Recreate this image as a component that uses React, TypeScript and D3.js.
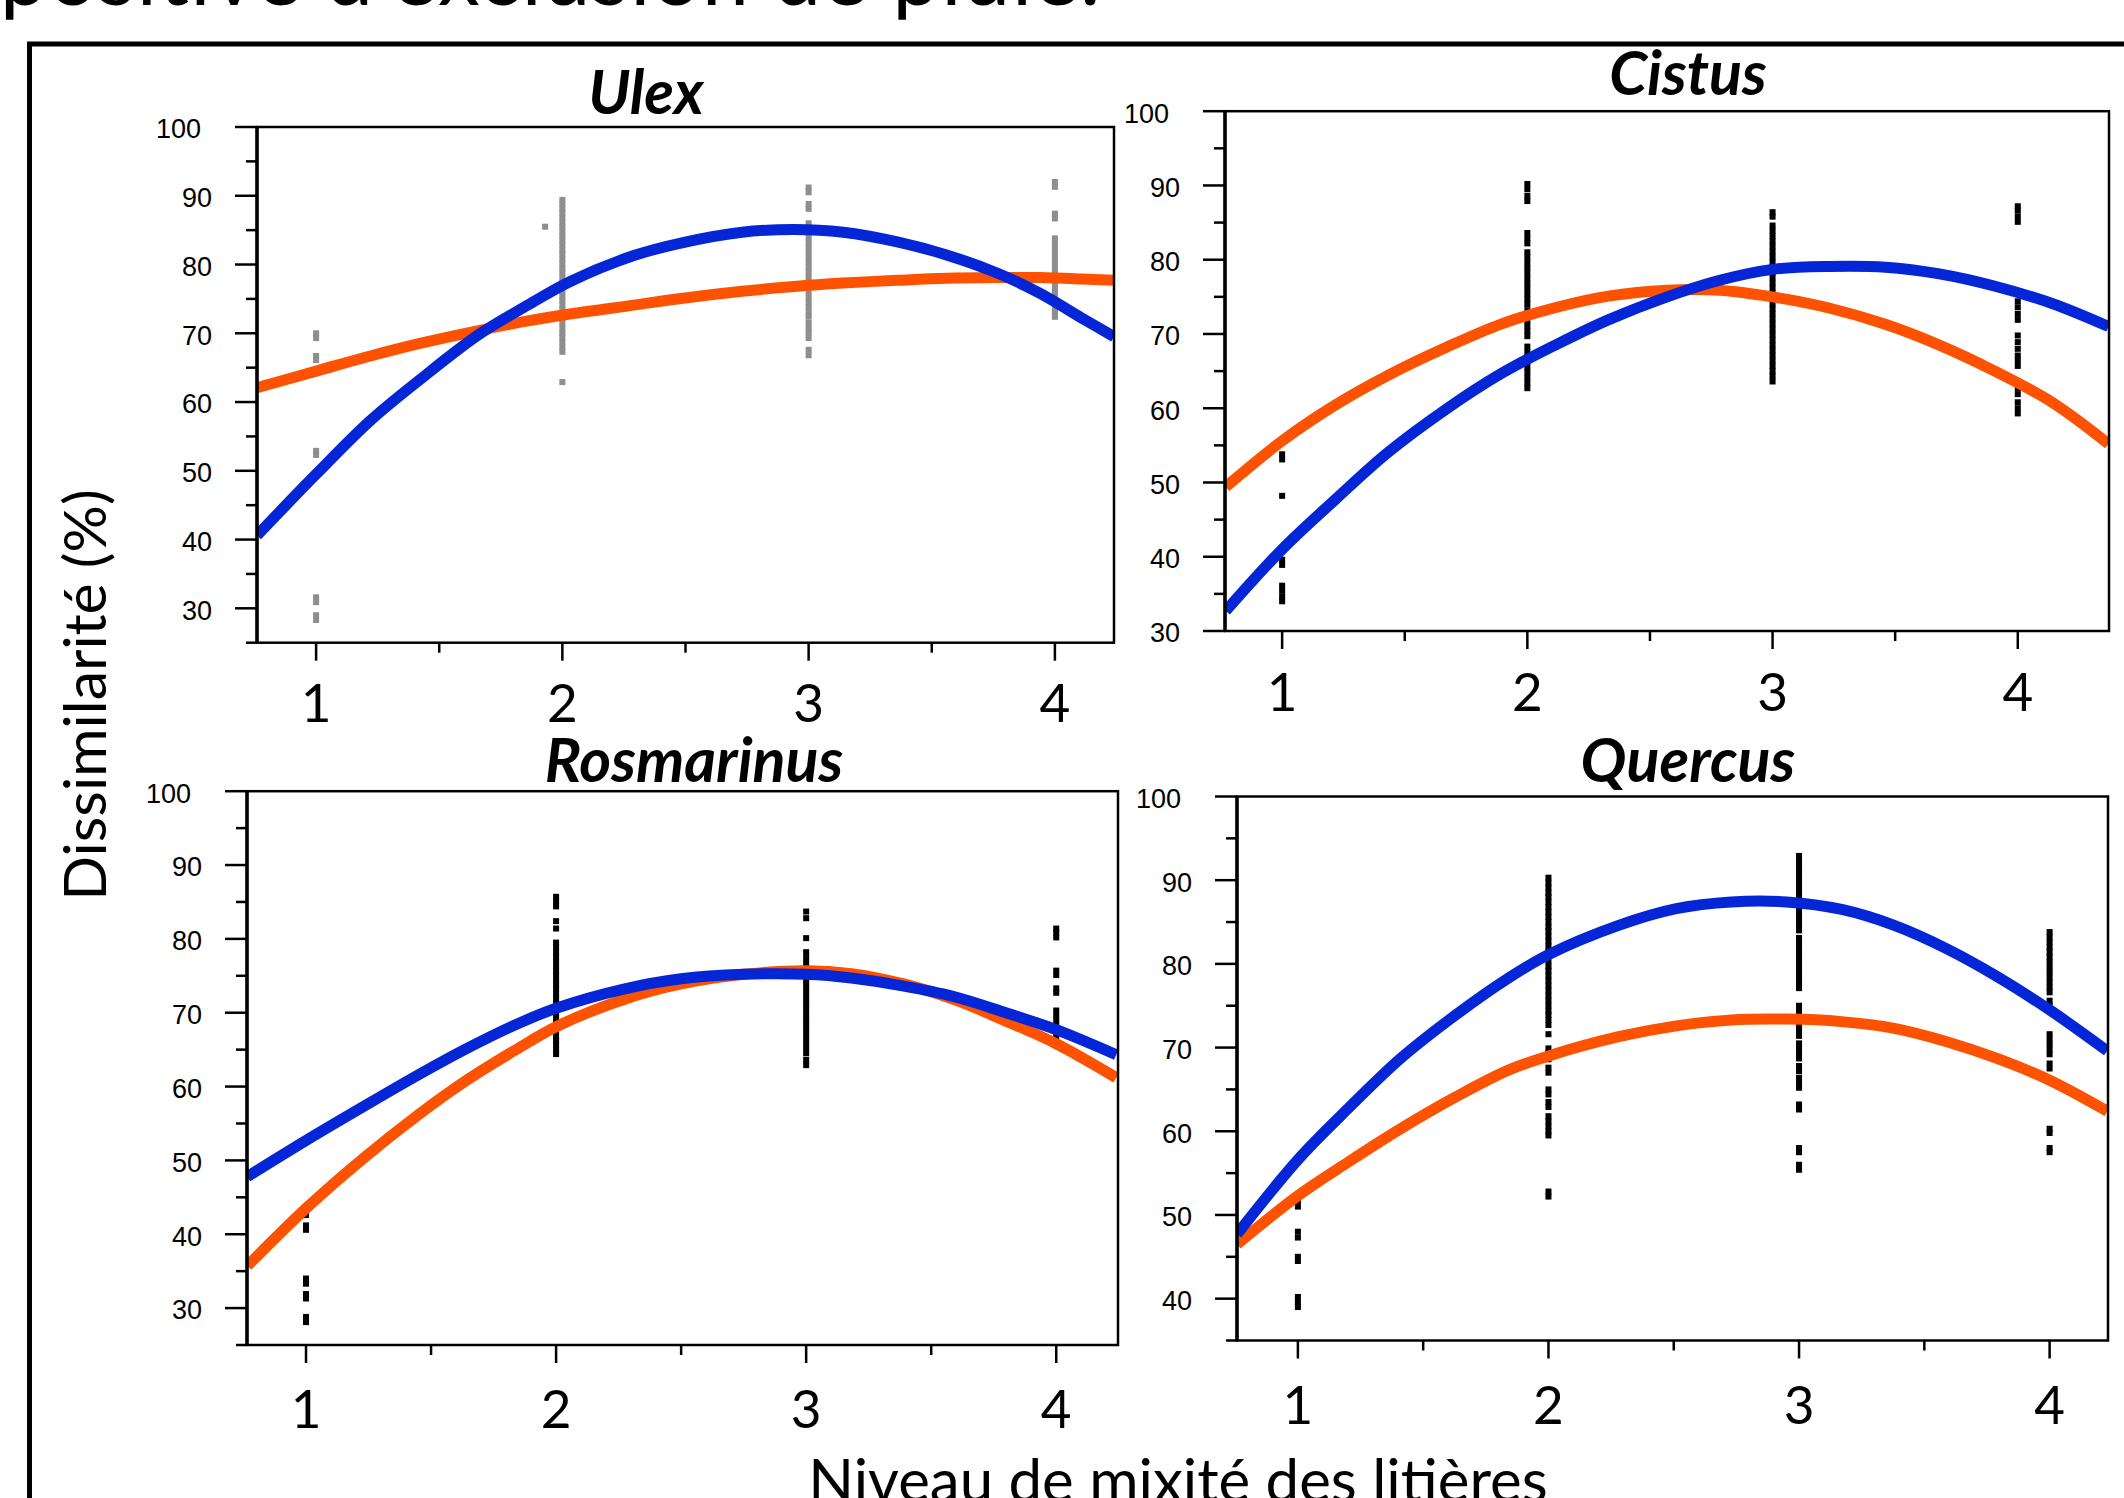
import React from "react";
import * as d3 from "d3";

const W = 2124;
const H = 1498;

const TITLES = ["Ulex", "Cistus", "Rosmarinus", "Quercus"];
const LEVELS = [1, 2, 3, 4];
const X_MINOR = [1.5, 2.5, 3.5];
const Y_LABEL = "Dissimilarité (%)";
const X_LABEL = "Niveau de mixité des litières";
const HEADER = "positive d'exclusion de pluie.";

// fitted curves (x positions + value for each fit)
const ULEX_X = [0.76, 1.0, 1.22, 1.43, 1.66, 1.86, 2.03, 2.29, 2.49, 2.73, 2.94, 3.14, 3.36, 3.56, 3.77, 3.94, 4.11, 4.24];
const ULEX_BLUE = [40.6, 49.5, 57.3, 63.5, 69.8, 74.1, 77.5, 81.3, 83.2, 84.7, 85.1, 84.7, 83.3, 81.4, 78.7, 75.8, 72.2, 69.5];
const ULEX_ORANGE = [62.1, 64.5, 66.7, 68.6, 70.4, 71.8, 72.8, 74.1, 75.1, 76.1, 76.8, 77.3, 77.7, 78.0, 78.1, 78.1, 77.9, 77.7];

const CISTUS_X = [0.77, 1.0, 1.22, 1.43, 1.67, 1.89, 2.12, 2.33, 2.57, 2.78, 3.0, 3.23, 3.46, 3.68, 3.9, 4.14, 4.37];
const CISTUS_BLUE = [32.7, 41.0, 47.8, 54.0, 59.9, 64.6, 68.6, 71.9, 75.0, 77.2, 78.7, 79.1, 79.0, 78.1, 76.5, 74.1, 71.0];
const CISTUS_ORANGE = [49.4, 55.6, 60.5, 64.4, 68.2, 71.3, 73.6, 75.1, 75.9, 75.9, 75.0, 73.5, 71.3, 68.5, 65.1, 60.8, 55.2];

const ROSM_X = [0.765, 1, 1.23, 1.45, 1.64, 1.84, 2, 2.27, 2.5, 2.75, 3, 3.18, 3.39, 3.59, 3.79, 4, 4.24];
const ROSM_BLUE = [47.8, 52.7, 57.3, 61.6, 65.1, 68.4, 70.6, 73.2, 74.6, 75.2, 75.2, 74.7, 73.6, 72.2, 70.1, 67.7, 64.3];
const ROSM_ORANGE = [35.7, 43.5, 50.3, 56.2, 60.8, 65.0, 68.1, 71.8, 73.9, 75.2, 75.7, 75.3, 73.9, 71.8, 69.0, 65.8, 61.2];

const QUER_X = [0.757, 1, 1.2, 1.41, 1.63, 1.84, 2, 2.28, 2.51, 2.73, 2.95, 3.17, 3.38, 3.59, 3.79, 4, 4.23];
const QUER_BLUE = [47.7, 56.6, 62.7, 68.7, 73.9, 78.3, 81.1, 84.6, 86.6, 87.4, 87.4, 86.5, 84.6, 81.8, 78.5, 74.5, 69.6];
const QUER_ORANGE = [46.5, 52.3, 56.3, 60.3, 64.1, 67.3, 69.0, 71.3, 72.6, 73.3, 73.4, 73.1, 72.3, 70.7, 68.7, 66.1, 62.4];

// observations: [niveau, dissimilarité]
const ULEX_PTS: [number, number][] = [
  [1, 70], [1, 69.3], [1, 66.7], [1, 66.1], [1, 52.9], [1, 52.3], [1, 31.6], [1, 30.9], [1, 29.0], [1, 28.3],
  [1.93, 85.5],
  ...[89.4, 88.8, 88.1, 87.5, 86.8, 86.1, 85.5, 84.8, 84.1, 83.5, 82.8, 82.1, 81.5, 80.8, 80.1, 79.4, 78.8, 78.1,
    77.4, 76.8, 76.1, 75.4, 74.8, 74.1, 73.4, 72.7, 72.1, 71.4, 70.7, 70.0, 69.4, 68.7, 68.0, 67.3, 62.9].map((v) => [2, v] as [number, number]),
  ...[91.2, 90.5, 88.8, 88.1, 86.0, 85.3, 84.6, 83.9, 83.2, 82.5, 81.8, 81.0, 80.3, 79.6, 78.9, 78.1, 77.4, 76.7,
    76.0, 75.2, 74.5, 73.8, 73.0, 72.4, 71.5, 70.8, 70.1, 69.3, 67.6, 66.8].map((v) => [3, v] as [number, number]),
  ...[92.0, 91.3, 87.4, 86.7, 83.8, 83.1, 82.4, 81.7, 81.0, 80.3, 79.5, 78.8, 78.1, 77.4, 76.7, 76.0, 75.3, 74.6,
    73.9, 73.1, 72.4].map((v) => [4, v] as [number, number]),
];

const CISTUS_PTS: [number, number][] = [
  ...[53.8, 53.1, 48.2, 39.6, 38.9, 36.1, 35.4, 34.6, 34.0].map((v) => [1, v] as [number, number]),
  ...[90.2, 89.5, 88.6, 87.9, 83.6, 82.9, 82.2, 81.0, 80.3, 79.6, 78.9, 78.2, 77.5, 76.8, 76.1, 75.4, 74.7, 74.0,
    73.2, 72.5, 71.8, 71.1, 70.4, 69.7, 68.3, 67.6, 66.9, 66.2, 65.5, 64.8, 64.1, 63.4, 62.7].map((v) => [2, v] as [number, number]),
  ...[86.4, 85.8, 84.6, 83.9, 83.2, 82.5, 81.8, 81.1, 80.4, 79.7, 79.0, 78.3, 77.6, 76.9, 76.2, 75.5, 74.8, 74.1,
    73.4, 72.7, 72.0, 71.3, 70.6, 69.9, 69.2, 68.5, 67.8, 67.1, 66.4, 65.7, 65.0, 64.3, 63.6].map((v) => [3, v] as [number, number]),
  ...[87.2, 86.6, 85.8, 85.1, 74.4, 73.6, 72.7, 71.9, 69.8, 68.9, 68.0, 67.1, 66.4, 65.7, 62.7, 61.9, 60.8, 60.0,
    59.3].map((v) => [4, v] as [number, number]),
];

const ROSM_PTS: [number, number][] = [
  ...[42.6, 41.2, 40.6, 34.0, 33.3, 31.9, 31.3, 28.8, 28.1].map((v) => [1, v] as [number, number]),
  ...[85.7, 85.1, 84.4, 82.4, 81.4, 79.5, 78.9, 78.2, 77.6, 77.0, 76.3, 75.7, 75.1, 74.4, 73.8, 73.2, 72.5, 71.9,
    71.3, 70.6, 70.0, 69.4, 68.7, 68.1, 67.5, 66.8, 66.2, 65.6, 64.9, 64.4].map((v) => [2, v] as [number, number]),
  ...[83.7, 82.8, 80.1, 78.2, 77.4, 76.6, 75.9, 75.1, 74.5, 73.8, 73.1, 72.5, 71.8, 71.1, 70.5, 69.8, 69.1, 68.5,
    67.8, 67.1, 66.5, 65.8, 65.1, 64.5, 63.6, 62.9].map((v) => [3, v] as [number, number]),
  ...[81.4, 80.8, 80.2, 75.7, 75.1, 73.3, 72.7, 70.3, 69.6, 68.9, 68.2, 67.5, 66.8].map((v) => [4, v] as [number, number]),
];

const QUER_PTS: [number, number][] = [
  ...[51.6, 51.0, 48.0, 47.3, 45.0, 44.5, 40.2, 39.6, 39.0].map((v) => [1, v] as [number, number]),
  ...[90.3, 89.7, 89.1, 88.5, 88.0, 87.4, 86.8, 86.2, 85.6, 85.0, 84.4, 83.9, 83.3, 82.7, 82.1, 81.5, 80.9, 80.3,
    79.7, 79.2, 78.6, 78.0, 77.4, 76.8, 76.2, 75.6, 75.0, 74.4, 73.9, 73.3, 72.7, 71.6, 69.9, 69.3, 68.6, 67.6,
    67.0, 65.0, 64.4, 63.5, 62.9, 61.8, 61.2, 60.6, 60.0, 59.5, 52.8, 52.2].map((v) => [2, v] as [number, number]),
  ...[92.9, 92.3, 91.7, 91.1, 90.5, 89.9, 89.3, 88.8, 88.2, 87.6, 87.0, 86.4, 85.8, 85.2, 84.6, 84.0, 83.1, 82.5,
    81.9, 81.3, 80.7, 80.1, 79.5, 78.9, 78.3, 77.7, 77.1, 75.0, 74.4, 73.8, 73.2, 72.6, 72.0, 71.4, 70.5, 69.9,
    69.3, 68.7, 67.8, 67.2, 66.4, 65.8, 65.2, 63.2, 62.6, 58.0, 57.5, 56.0, 55.4].map((v) => [3, v] as [number, number]),
  ...[83.8, 83.2, 82.6, 82.0, 81.4, 80.8, 80.2, 79.6, 79.0, 78.4, 77.8, 77.2, 76.6, 75.6, 75.0, 74.5, 71.6, 71.0,
    70.4, 69.8, 69.2, 68.1, 67.5, 60.3, 59.8, 58.0, 57.5].map((v) => [4, v] as [number, number]),
];

// y-axis range per panel
const Y_MIN = [25, 30, 25, 35];
const Y_TICKS = [
  [30, 40, 50, 60, 70, 80, 90, 100],
  [30, 40, 50, 60, 70, 80, 90, 100],
  [30, 40, 50, 60, 70, 80, 90, 100],
  [40, 50, 60, 70, 80, 90, 100],
];
const X_DOMAINS = [[0.76, 4.24], [0.767, 4.372], [0.764, 4.247], [0.757, 4.233]];

// layout (pixel boxes etc.)
const LAYOUT = [
  { left: 257, right: 1114, top: 127, bottom: 642.7, titleX: 646, titleY: 114, tickLabelY: 722, ptColor: "#8e8e8e" },
  { left: 1225, right: 2109, top: 111.2, bottom: 631, titleX: 1688, titleY: 95, tickLabelY: 711, ptColor: "#000" },
  { left: 247, right: 1118, top: 791.2, bottom: 1345, titleX: 694, titleY: 782, tickLabelY: 1428, ptColor: "#000" },
  { left: 1237, right: 2108, top: 796.5, bottom: 1340.5, titleX: 1688, titleY: 782, tickLabelY: 1424, ptColor: "#000" },
];

const SERIES = [
  { x: ULEX_X, blue: ULEX_BLUE, orange: ULEX_ORANGE, pts: ULEX_PTS },
  { x: CISTUS_X, blue: CISTUS_BLUE, orange: CISTUS_ORANGE, pts: CISTUS_PTS },
  { x: ROSM_X, blue: ROSM_BLUE, orange: ROSM_ORANGE, pts: ROSM_PTS },
  { x: QUER_X, blue: QUER_BLUE, orange: QUER_ORANGE, pts: QUER_PTS },
];

const BLUE = "#0426d6";
const ORANGE = "#ff5200";
const SANS = "Lato, Carlito, 'Open Sans', sans-serif";
const TICK_FONT = "'Liberation Sans', Arial, sans-serif";

function Panel({ i }: { i: number }) {
  const L = LAYOUT[i];
  const S = SERIES[i];
  const x = d3.scaleLinear().domain(X_DOMAINS[i]).range([L.left, L.right]);
  const y = d3.scaleLinear().domain([Y_MIN[i], 100]).range([L.bottom, L.top]);
  const minor = d3.range(Y_MIN[i], 100.01, 5);

  const line = (vals: number[]) =>
    d3
      .line<number>()
      .x((_, k) => x(S.x[k]))
      .y((d) => y(d))
      .curve(d3.curveCatmullRom)(vals) || "";

  const clipId = `clip-${i}`;
  const boxW = L.right - L.left;
  const boxH = L.bottom - L.top;

  return (
    <g>
      <defs>
        <clipPath id={clipId}>
          <rect x={L.left} y={L.top} width={boxW} height={boxH} />
        </clipPath>
      </defs>

      {/* title */}
      <text
        x={L.titleX}
        y={L.titleY}
        textAnchor="middle"
        fontFamily={SANS}
        fontWeight={700}
        fontStyle="italic"
        fontSize={61}
      >
        {TITLES[i]}
      </text>

      {/* points */}
      <g fill={L.ptColor}>
        {S.pts.map(([lv, v], k) => (
          <rect key={k} x={x(lv) - 3} y={y(v) - 3} width={6} height={6} />
        ))}
      </g>

      {/* fitted curves */}
      <g clipPath={`url(#${clipId})`} fill="none" strokeWidth={11} strokeLinejoin="round">
        <path d={line(S.orange)} stroke={ORANGE} />
        <path d={line(S.blue)} stroke={BLUE} />
      </g>

      {/* frame */}
      <rect x={L.left} y={L.top} width={boxW} height={boxH} fill="none" stroke="#000" strokeWidth={2.5} />
      <line x1={L.left} x2={L.left} y1={L.top} y2={L.bottom} stroke="#000" strokeWidth={3.5} />

      {/* y axis */}
      {minor.map((t) => {
        const major = t % 10 === 0;
        return (
          <line
            key={t}
            x1={L.left - (major ? 22 : 11)}
            x2={L.left}
            y1={y(t)}
            y2={y(t)}
            stroke="#000"
            strokeWidth={2.5}
          />
        );
      })}
      {Y_TICKS[i].map((t) => (
        <text
          key={t}
          x={L.left - 45 - (t === 100 ? 11 : 0)}
          y={y(t)}
          dy="0.42em"
          textAnchor="end"
          fontFamily={TICK_FONT}
          fontSize={27}
        >
          {t}
        </text>
      ))}

      {/* x axis */}
      {LEVELS.map((t) => (
        <line key={t} x1={x(t)} x2={x(t)} y1={L.bottom} y2={L.bottom + 18} stroke="#000" strokeWidth={2.5} />
      ))}
      {X_MINOR.map((t) => (
        <line key={t} x1={x(t)} x2={x(t)} y1={L.bottom} y2={L.bottom + 10} stroke="#000" strokeWidth={2.5} />
      ))}
      {LEVELS.map((t) => (
        <text key={t} x={x(t)} y={L.tickLabelY} textAnchor="middle" fontFamily={SANS} fontSize={53}>
          {String(t)}
        </text>
      ))}
    </g>
  );
}

export default function App() {
  return (
    <svg
      width={W}
      height={H}
      viewBox={`0 0 ${W} ${H}`}
      style={{ position: "absolute", left: 0, top: 0, background: "#fff" }}
    >
      <rect width={W} height={H} fill="#fff" />
      <text x={0} y={5} fontFamily={SANS} fontSize={84} textLength={1100} lengthAdjust="spacing">
        {HEADER}
      </text>
      <path d={`M29.5,${H} V44 H${W}`} fill="none" stroke="#000" strokeWidth={5} />

      {[0, 1, 2, 3].map((i) => (
        <Panel key={i} i={i} />
      ))}

      <text
        transform={`translate(106,695) rotate(-90)`}
        textAnchor="middle"
        fontFamily={SANS}
        fontSize={59}
      >
        {Y_LABEL}
      </text>
      <text x={1178} y={1502} textAnchor="middle" fontFamily={SANS} fontSize={60}>
        {X_LABEL}
      </text>
    </svg>
  );
}
